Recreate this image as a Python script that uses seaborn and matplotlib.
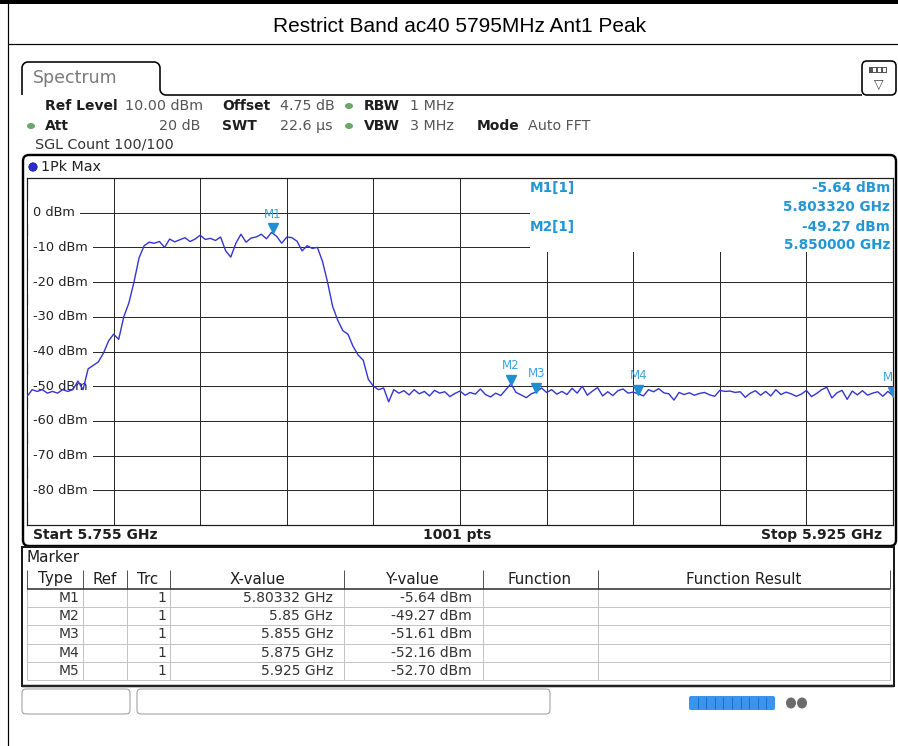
import numpy as np
import matplotlib
matplotlib.use("Agg")
import matplotlib.pyplot as plt
import seaborn as sns
import pandas as pd
from matplotlib.patches import FancyBboxPatch, Rectangle, Ellipse, Circle
from matplotlib import transforms as mtrans

# ---------------- data ----------------
title = "Restrict Band ac40 5795MHz Ant1 Peak"
start_ghz = 5.755
stop_ghz = 5.925
sweep_points_label = "1001 pts"
ref_level = 10
bottom_level = -90
level_ticks = [0, -10, -20, -30, -40, -50, -60, -70, -80]
level_tick_labels = ["0 dBm", "-10 dBm", "-20 dBm", "-30 dBm", "-40 dBm",
                     "-50 dBm", "-60 dBm", "-70 dBm", "-80 dBm"]
freq_grid_ghz = [5.772, 5.789, 5.806, 5.823, 5.840, 5.857, 5.874, 5.891, 5.908]

# trace (1 MHz steps from 5.755 to 5.925 GHz)
level_dbm = [
    -53.0, -51.0, -51.5, -51.0, -52.0, -51.5, -52.0, -51.0, -51.5, -51.0,
    -48.5, -51.0, -45.0, -44.0, -43.0, -40.5, -37.0, -35.0, -36.5, -30.0,
    -26.0, -20.0, -13.0, -9.5, -8.5, -8.8, -8.3, -10.0, -7.6, -8.4,
    -7.8, -7.2, -8.3, -7.6, -6.5, -7.7, -7.4, -8.0, -7.0, -11.0,
    -12.8, -8.8, -6.2, -8.5, -7.3, -7.0, -6.2, -7.5, -5.7, -6.8,
    -8.8, -7.0, -7.2, -8.2, -11.0, -9.5, -10.3, -10.0, -14.0, -20.0,
    -27.0, -31.0, -34.0, -35.0, -38.5, -41.0, -42.5, -48.0, -50.0, -51.0,
    -50.5, -54.5, -51.0, -52.0, -51.3, -52.5, -51.0, -52.2, -51.5, -52.8,
    -51.2, -52.0, -51.6, -53.0, -52.1, -51.4, -52.6, -51.8, -52.3, -50.8,
    -52.4, -53.1, -52.0, -52.7, -51.0, -49.3, -51.8, -52.5, -53.3, -52.2,
    -51.6, -50.5, -51.8, -51.0, -52.3, -51.5, -52.4, -50.6, -52.0, -50.0,
    -52.6, -51.4, -50.4, -52.8, -51.6, -52.7, -51.3, -50.8, -52.0, -51.7,
    -52.2, -52.8, -51.0, -51.6, -50.7, -51.9, -52.2, -54.0, -51.8, -52.4,
    -51.9, -52.6, -52.1, -51.8, -52.5, -52.9, -51.2, -51.5, -51.4, -51.8,
    -51.6, -53.2, -52.0, -51.3, -52.6, -51.5, -52.8, -51.0, -52.4, -51.7,
    -52.2, -52.9, -52.3, -51.2, -53.0, -52.1, -51.0, -50.3, -53.4, -51.9,
    -51.2, -53.8, -51.4, -52.5, -51.3, -52.6, -52.0, -51.6, -52.9, -51.5,
    -52.7,
]

marker_names = ["M1", "M2", "M3", "M4", "M5"]
marker_trc = ["1", "1", "1", "1", "1"]
marker_x_ghz = [5.80332, 5.85, 5.855, 5.875, 5.925]
marker_x_text = ["5.80332 GHz", "5.85 GHz", "5.855 GHz", "5.875 GHz", "5.925 GHz"]
marker_y_dbm = [-5.64, -49.27, -51.61, -52.16, -52.70]
marker_y_text = ["-5.64 dBm", "-49.27 dBm", "-51.61 dBm", "-52.16 dBm", "-52.70 dBm"]
readout_freq_text = ["5.803320 GHz", "5.850000 GHz"]
table_headers = ["Type", "Ref", "Trc", "X-value", "Y-value", "Function", "Function Result"]

# ---------------- figure ----------------
sns.set_theme(style="white")
plt.rcParams['font.family'] = ['DejaVu Sans']
W, H = 898, 746
fig = plt.figure(figsize=(W / 100, H / 100), dpi=100, facecolor="white")

bg = fig.add_axes([0, 0, 1, 1], zorder=0)
bg.set_xlim(0, W)
bg.set_ylim(H, 0)
bg.axis("off")

PT = 1 / 1.389  # px -> pt

def T(x, y, s, size=9, weight="normal", color="#222222", ha="left", va="center",
      family=None, ax=None, z=5, **kw):
    a = ax if ax is not None else bg
    kwargs = dict(fontsize=size, fontweight=weight, color=color, ha=ha, va=va, zorder=z)
    if family:
        kwargs["family"] = family
    kwargs.update(kw)
    return a.text(x, y, s, transform=bg.transData, **kwargs)

def L(xs, ys, lw=1.0, color="black", z=2, ax=None):
    a = ax if ax is not None else bg
    a.plot(xs, ys, color=color, lw=lw * PT, solid_capstyle="butt", zorder=z,
           transform=bg.transData, clip_on=False)

# outer page frame
L([0, W], [2, 2], lw=4)
L([8, 8], [0, H], lw=1.2)
L([8, W], [44, 44], lw=1.2)
T(460, 26, title, size=15, family="Liberation Sans", color="black", ha="center")

# Spectrum tab
r = 6
th = np.linspace(0, np.pi / 2, 12)
px = [22, 22]
py = [95, 62 + r]
for t in th:
    px.append(22 + r - r * np.cos(t)); py.append(62 + r - r * np.sin(t))
for t in th:
    px.append(160 - r + r * np.sin(t)); py.append(62 + r - r * np.cos(t))
px.append(160); py.append(95 - r)
for t in th:
    px.append(160 + r - r * np.cos(t)); py.append(95 - r + r * np.sin(t))
px.append(862); py.append(95)
L(px, py, lw=1.6)
T(33, 78, "Spectrum", size=12.5, color="#7a7a7a")

# icon box top right
bg.add_patch(FancyBboxPatch((862, 61), 34, 34, boxstyle="round,pad=0,rounding_size=5",
                            ec="black", fc="white", lw=1.6 * PT, zorder=3))
bg.add_patch(Rectangle((869, 67), 18, 6, fc="#555555", ec="none", zorder=4))
for xx in (873, 878, 883):
    bg.add_patch(Rectangle((xx, 68), 2.5, 4, fc="white", ec="none", zorder=5))
T(879, 85, "\u25bd", size=9, color="#444444", ha="center")

# info lines
lab_c, val_c = "#1e1e1e", "#555555"
LS, VS = 10, 10.3
T(45, 106, "Ref Level", weight="bold", color=lab_c, size=LS)
T(125, 106, "10.00 dBm", color=val_c, size=VS)
T(222, 106, "Offset", weight="bold", color=lab_c, size=LS)
T(280, 106, "4.75 dB", color=val_c, size=VS)
T(364, 106, "RBW", weight="bold", color=lab_c, size=LS)
T(410, 106, "1 MHz", color=val_c, size=VS)
T(45, 126, "Att", weight="bold", color=lab_c, size=LS)
T(200, 126, "20 dB", color=val_c, ha="right", size=VS)
T(222, 126, "SWT", weight="bold", color=lab_c, size=LS)
T(280, 126, "22.6 \u00b5s", color=val_c, size=VS)
T(364, 126, "VBW", weight="bold", color=lab_c, size=LS)
T(410, 126, "3 MHz", color=val_c, size=VS)
T(477, 126, "Mode", weight="bold", color=lab_c, size=LS)
T(528, 126, "Auto FFT", color=val_c, size=VS)
T(35, 145, "SGL Count 100/100", color="#333333", size=10.3)
for (cx, cy) in [(349, 106), (31, 126), (349, 126)]:
    bg.add_patch(Ellipse((cx, cy), 8, 6, fc="#6aa86a", ec="none", zorder=4))

# plot frame
bg.add_patch(FancyBboxPatch((23, 155), 873, 391, boxstyle="round,pad=0,rounding_size=6",
                            ec="black", fc="white", lw=2.4 * PT, zorder=1))
bg.add_patch(Circle((33, 167), 4.2, fc="#2b2bd0", ec="#1010a0", lw=0.5, zorder=4))
T(41, 167, "1Pk Max", size=10.3, color="#222222")
T(33, 535, f"Start {start_ghz:.3f} GHz", weight="bold", color="#1e1e1e", size=10)
T(457, 535, sweep_points_label, weight="bold", color="#1e1e1e", ha="center", size=10)
T(882, 535, f"Stop {stop_ghz:.3f} GHz", weight="bold", color="#1e1e1e", ha="right", size=10)

# marker table frame
bg.add_patch(Rectangle((22, 547), 872, 139, ec="#1a1a1a", fc="white", lw=2 * PT, zorder=1))
L([22, 894], [686, 686], lw=2.5, color="#222222")
T(27, 558, "Marker", size=11, color="#1e1e1e")
col_edges = [27, 83, 127, 170, 344, 483, 598, 890]
row_edges = [570, 589, 607, 625, 644, 662, 680]
for x in col_edges:
    L([x, x], [570, 589], lw=1, color="#555555", z=3)
    L([x, x], [589, 680], lw=1, color="#c4c4c4", z=3)
L([27, 890], [589, 589], lw=1.6, color="#333333", z=3)
for y in row_edges[2:]:
    L([27, 890], [y, y], lw=1, color="#c4c4c4", z=3)
hdr_centers = [55, 105, 148, 257, 413, 540, 744]
for cx, h in zip(hdr_centers, table_headers):
    T(cx, 579, h, size=10.8, color="#1e1e1e", ha="center")
for i in range(len(marker_names)):
    yc = (row_edges[i + 1] + row_edges[i + 2]) / 2
    T(79, yc, marker_names[i], color="#333333", ha="right", size=10)
    T(166, yc, marker_trc[i], color="#333333", ha="right", size=10)
    T(333, yc, marker_x_text[i], color="#333333", ha="right", size=10)
    T(472, yc, marker_y_text[i], color="#333333", ha="right", size=10)

# status bar
bg.add_patch(FancyBboxPatch((22, 689), 108, 25, boxstyle="round,pad=0,rounding_size=4",
                            ec="#9a9a9a", fc="white", lw=1 * PT, zorder=2))
bg.add_patch(FancyBboxPatch((137, 689), 413, 25, boxstyle="round,pad=0,rounding_size=4",
                            ec="#9a9a9a", fc="white", lw=1 * PT, zorder=2))
bg.add_patch(FancyBboxPatch((689, 696), 86, 14, boxstyle="round,pad=0,rounding_size=2",
                            ec="none", fc="#3b95f0", zorder=2))
for k in range(1, 10):
    L([689 + k * 8.6, 689 + k * 8.6], [697, 709], lw=1, color="#1f6fc0", z=3)
bg.add_patch(Ellipse((791, 703), 10, 11, fc="#6b6b6b", ec="none", zorder=2))
bg.add_patch(Ellipse((802, 703), 10, 11, fc="#6b6b6b", ec="none", zorder=2))

# ---------------- spectrum axes ----------------
x0, x1, y0, y1 = 27, 893, 178, 525
ax = fig.add_axes([x0 / W, 1 - y1 / H, (x1 - x0) / W, (y1 - y0) / H], zorder=2)
ax.set_facecolor("white")

freq_ghz = np.linspace(start_ghz, stop_ghz, len(level_dbm))
df = pd.DataFrame({"freq": freq_ghz, "level": level_dbm})
sns.lineplot(data=df, x="freq", y="level", ax=ax, color="#3434d4", lw=1.0, zorder=6,
             estimator=None, sort=False)
ax.set_xlim(start_ghz, stop_ghz)
ax.set_ylim(bottom_level, ref_level)
ax.set_xticks(freq_grid_ghz)
ax.set_yticks(level_ticks)
ax.set_xticklabels([])
ax.set_yticklabels([])
ax.tick_params(length=0)
ax.set_xlabel("")
ax.set_ylabel("")
ax.set_axisbelow(True)
ax.grid(True, color="#2a2a2a", lw=1.0 * PT)
for s in ax.spines.values():
    s.set_color("#1a1a1a")
    s.set_linewidth(1.2 * PT)

# white panel hiding the grid behind marker readout
ax.add_patch(Rectangle((0.581, 0.787), 0.42, 0.21, transform=ax.transAxes,
                       fc="white", ec="none", zorder=1))

# level labels on the left inside the grid
ylab_tr = mtrans.blended_transform_factory(ax.transAxes, ax.transData)
for v, lab in zip(level_ticks, level_tick_labels):
    ax.text(6 / 866, v, lab, transform=ylab_tr, fontsize=9.3, color="#222222",
            ha="left", va="center", zorder=3,
            bbox=dict(boxstyle="square,pad=0.38", fc="white", ec="none"))

# markers
mk_color = "#1f8fd2"
tri_tr = mtrans.offset_copy(ax.transData, fig=fig, x=0, y=4, units="dots")
for name, fx, fy in zip(marker_names, marker_x_ghz, marker_y_dbm):
    ax.plot([fx], [fy], marker="v", ms=6.5, color=mk_color, transform=tri_tr,
            zorder=7, clip_on=True)
    # the last marker sits on the right edge; its label is clipped there as on the screen
    lab = name if fx < stop_ghz else name[0]
    ax.annotate(lab, (fx, fy), xytext=(0, 18), textcoords="offset pixels",
                ha="center" if fx < stop_ghz else "right", va="center",
                fontsize=8.5, color="#3aa3dc",
                zorder=7, annotation_clip=True, clip_on=True)

# marker readouts
ro_c = "#2296d6"
RS = 9.8
T(530, 188, "M1[1]", weight="bold", color=ro_c, ax=ax, z=8, size=RS)
T(890, 188, marker_y_text[0], weight="bold", color=ro_c, ha="right", ax=ax, z=8, size=RS)
T(890, 207, readout_freq_text[0], weight="bold", color=ro_c, ha="right", ax=ax, z=8, size=RS)
T(530, 227, "M2[1]", weight="bold", color=ro_c, ax=ax, z=8, size=RS)
T(890, 227, marker_y_text[1], weight="bold", color=ro_c, ha="right", ax=ax, z=8, size=RS)
T(890, 245, readout_freq_text[1], weight="bold", color=ro_c, ha="right", ax=ax, z=8, size=RS)

fig.savefig("out.png", dpi=100, facecolor="white")
